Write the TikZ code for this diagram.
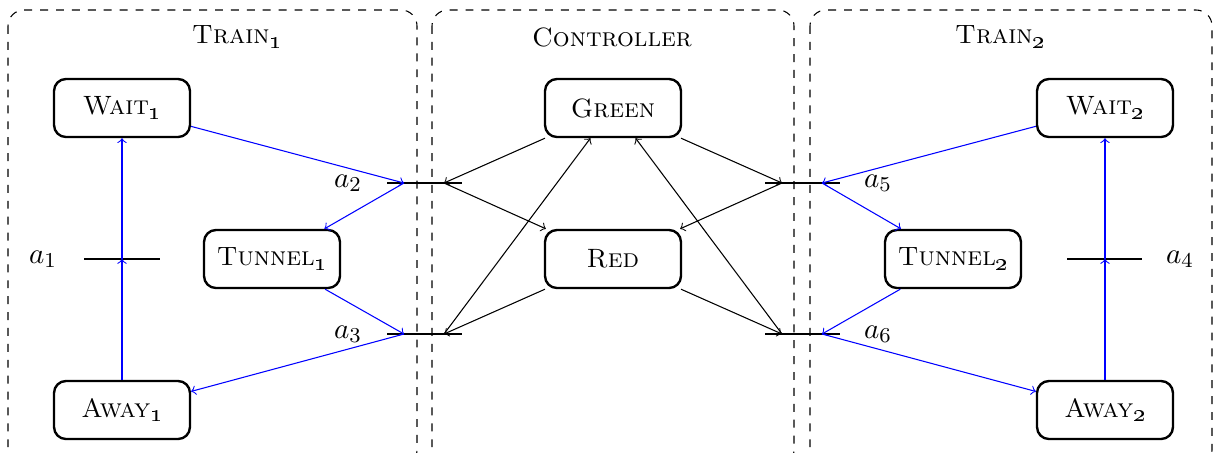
\documentclass[tikz,border=0pt]{standalone}
\newcommand{\osub}[1]{\raisebox{-0.35ex}{\small\oldstylenums{#1}}}
\begin{document}
\begin{tikzpicture}[x=0.3774pt,y=-0.3774pt,
  place/.style={draw, line width=0.9pt, rounded corners=4.5pt,
    minimum width=51.3pt, minimum height=21.9pt, inner sep=0pt, font=\scshape},
  region/.style={draw, dashed, rounded corners=6pt},
  tbar/.style={draw, line width=0.6pt},
  trainarc/.style={->, blue},
  ctlarc/.style={->, black},
  title/.style={font=\scshape},
  lbl/.style={inner sep=0pt, font=\fontsize{11}{13}\selectfont}
]
\useasboundingbox (0,0) rectangle (1219,452);
\clip (0,0) rectangle (1219,452);

% components
\draw[region] (8,10) rectangle (417,466);
\draw[region] (432,10) rectangle (794,466);
\draw[region] (810,10) rectangle (1212,466);

\node[title] (ttrain1) at (237,37) {Train\osub{1}};
\node[title] (tctl) at (612,37) {Controller};
\node[title] (ttrain2) at (1000,37) {Train\osub{2}};

% places
\node[place] (wait1)   at (122,108) {Wait\osub{1}};
\node[place] (tunnel1) at (272,259) {Tunnel\osub{1}};
\node[place] (away1)   at (122,410) {Away\osub{1}};
\node[place] (green)   at (613,108) {Green};
\node[place] (red)     at (613,259) {Red};
\node[place] (wait2)   at (1105,108) {Wait\osub{2}};
\node[place] (tunnel2) at (953,259) {Tunnel\osub{2}};
\node[place] (away2)   at (1105,410) {Away\osub{2}};

% transitions: bar ends and connection points
\coordinate (a1w) at (84,259);   \coordinate (a1e) at (160,259);  \coordinate (a1) at (122,259);
\coordinate (a2w) at (387,183);  \coordinate (a2e) at (462,183);
\coordinate (a2l) at (404,183);  \coordinate (a2r) at (444,183);
\coordinate (a3w) at (387,334);  \coordinate (a3e) at (462,334);
\coordinate (a3l) at (404,334);  \coordinate (a3r) at (444,334);
\coordinate (a5w) at (765,183);  \coordinate (a5e) at (840,183);
\coordinate (a5l) at (782,183);  \coordinate (a5r) at (822,183);
\coordinate (a6w) at (765,334);  \coordinate (a6e) at (840,334);
\coordinate (a6l) at (782,334);  \coordinate (a6r) at (822,334);
\coordinate (a4w) at (1067,259); \coordinate (a4e) at (1142,259); \coordinate (a4) at (1105,259);

\foreach \t in {a1,a2,a3,a4,a5,a6} \draw[tbar] (\t w) -- (\t e);

\node[lbl] (l1) at (43,259)  {$a_1$};
\node[lbl] (l2) at (348,183) {$a_2$};
\node[lbl] (l3) at (348,334) {$a_3$};
\node[lbl] (l4) at (1180,259) {$a_4$};
\node[lbl] (l5) at (878,183) {$a_5$};
\node[lbl] (l6) at (878,334) {$a_6$};

% first train
\draw[trainarc] (wait1) -- (a2l);
\draw[trainarc] (a2l) -- (tunnel1);
\draw[trainarc] (tunnel1) -- (a3l);
\draw[trainarc] (a3l) -- (away1);
\draw[trainarc] (away1) -- (a1);
\draw[trainarc] (a1) -- (wait1);

% controller
\draw[ctlarc] (green) -- (a2r);
\draw[ctlarc] (a2r) -- (red);
\draw[ctlarc] (red) -- (a3r);
\draw[ctlarc] (a3r) -- (green);
\draw[ctlarc] (green) -- (a5l);
\draw[ctlarc] (a5l) -- (red);
\draw[ctlarc] (red) -- (a6l);
\draw[ctlarc] (a6l) -- (green);

% second train
\draw[trainarc] (wait2) -- (a5r);
\draw[trainarc] (a5r) -- (tunnel2);
\draw[trainarc] (tunnel2) -- (a6r);
\draw[trainarc] (a6r) -- (away2);
\draw[trainarc] (away2) -- (a4);
\draw[trainarc] (a4) -- (wait2);
\end{tikzpicture}
\end{document}
